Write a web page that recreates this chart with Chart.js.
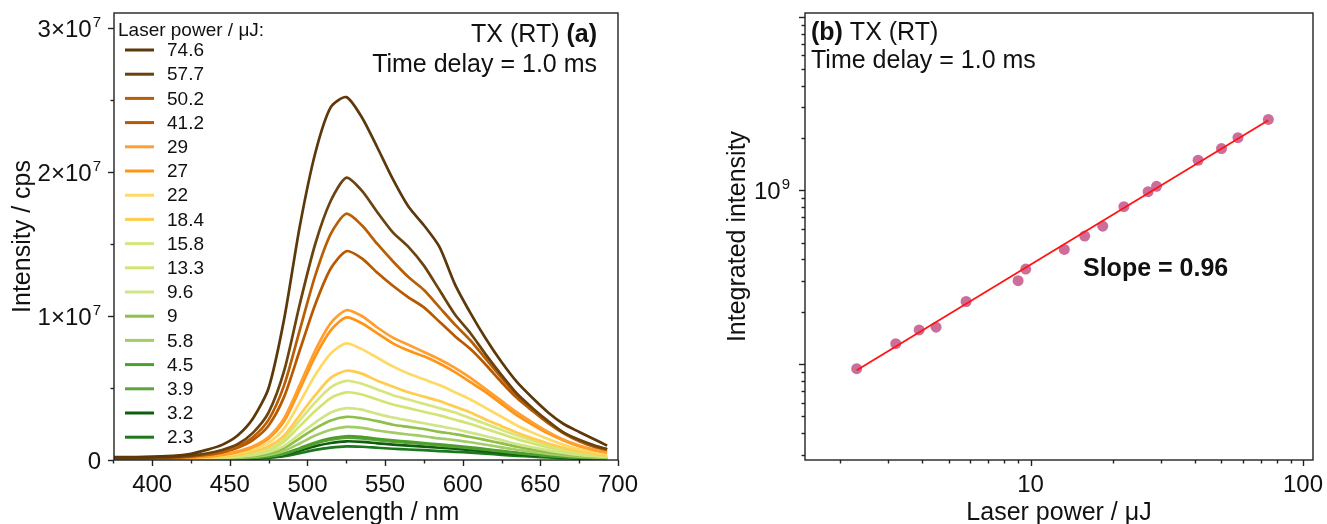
<!DOCTYPE html>
<html><head><meta charset="utf-8">
<script src="https://cdn.jsdelivr.net/npm/chart.js@4.4.0/dist/chart.umd.min.js"></script>
<style>
html,body{margin:0;padding:0;background:#fff;width:1327px;height:524px;overflow:hidden}
#c1{position:absolute;left:0;top:0}
#c2{position:absolute;left:680px;top:0}
</style></head><body>
<canvas id="c1" width="660" height="524"></canvas>
<canvas id="c2" width="647" height="524"></canvas>
<script>
// ---------- Panel (a): emission spectra (intensity in units of 10^6 cps) ----------
const wavelengths = [375,385,395,405,415,425,435,445,455,465,475,485,495,505,515,525,535,545,555,565,575,585,595,605,615,625,635,645,655,665,675,685,693];
const I_74_6 = [0.2,0.2,0.22,0.25,0.3,0.43,0.7,1.05,1.7,2.9,5.0,9.8,16.2,21.3,24.5,25.2,23.8,21.7,19.5,17.6,16.3,14.8,12.2,10.2,8.4,6.8,5.4,4.3,3.3,2.5,1.95,1.42,1.0];
const I_57_7 = [0.15,0.15,0.16,0.18,0.22,0.3,0.45,0.7,1.1,1.9,3.3,6.2,10.8,15.0,18.0,19.6,18.7,17.2,15.8,14.8,13.5,11.8,10.1,8.8,7.3,5.9,4.6,3.6,2.7,1.9,1.4,1.0,0.75];
const I_50_2 = [0.13,0.13,0.14,0.16,0.2,0.27,0.4,0.6,0.95,1.6,2.8,5.2,9.0,12.8,15.7,17.1,16.3,15.0,13.8,12.7,11.8,10.6,9.4,8.3,7.0,5.7,4.5,3.5,2.6,1.9,1.35,0.95,0.75];
const I_41_2 = [0.12,0.12,0.13,0.15,0.18,0.24,0.35,0.53,0.85,1.4,2.4,4.4,7.6,10.8,13.3,14.5,14.0,13.0,12.1,11.3,10.6,9.6,8.6,7.7,6.6,5.4,4.3,3.4,2.55,1.85,1.3,0.9,0.7];
const I_29 = [0.1,0.1,0.11,0.12,0.14,0.18,0.26,0.39,0.6,0.95,1.6,2.9,5.2,7.6,9.5,10.4,10.0,9.2,8.5,8.0,7.5,7.0,6.4,5.7,4.9,4.1,3.3,2.6,1.95,1.4,1.0,0.7,0.55];
const I_27 = [0.1,0.1,0.1,0.11,0.13,0.17,0.24,0.36,0.56,0.9,1.5,2.7,4.9,7.2,9.0,9.9,9.5,8.8,8.1,7.6,7.2,6.7,6.1,5.4,4.7,3.9,3.1,2.45,1.85,1.35,0.95,0.68,0.52];
const I_22 = [0.08,0.08,0.09,0.1,0.11,0.14,0.2,0.3,0.46,0.73,1.2,2.2,4.0,5.9,7.4,8.1,7.7,7.1,6.5,6.0,5.6,5.2,4.7,4.2,3.6,3.0,2.4,1.9,1.45,1.05,0.75,0.53,0.4];
const I_18_4 = [0.07,0.07,0.08,0.08,0.09,0.11,0.16,0.24,0.36,0.57,0.95,1.7,3.1,4.5,5.7,6.2,6.0,5.5,5.1,4.7,4.4,4.1,3.7,3.3,2.8,2.35,1.9,1.5,1.15,0.85,0.6,0.43,0.33];
const I_15_8 = [0.06,0.06,0.07,0.07,0.08,0.1,0.14,0.21,0.32,0.5,0.84,1.5,2.75,4.0,5.05,5.5,5.3,4.9,4.5,4.2,3.9,3.6,3.3,2.9,2.5,2.1,1.7,1.35,1.03,0.76,0.55,0.4,0.3];
const I_13_3 = [0.05,0.05,0.06,0.06,0.07,0.085,0.12,0.18,0.27,0.43,0.71,1.28,2.35,3.4,4.3,4.7,4.55,4.2,3.85,3.6,3.35,3.1,2.8,2.5,2.15,1.8,1.45,1.15,0.88,0.65,0.47,0.34,0.26];
const I_9_6 = [0.04,0.04,0.045,0.05,0.055,0.07,0.095,0.14,0.21,0.33,0.55,0.98,1.8,2.6,3.3,3.6,3.5,3.2,2.95,2.75,2.55,2.35,2.15,1.9,1.65,1.38,1.1,0.88,0.67,0.5,0.36,0.26,0.2];
const I_9 = [0.035,0.035,0.04,0.04,0.045,0.06,0.08,0.12,0.18,0.28,0.46,0.82,1.5,2.2,2.75,3.0,2.9,2.7,2.45,2.3,2.15,1.95,1.8,1.6,1.38,1.15,0.92,0.73,0.56,0.42,0.3,0.22,0.17];
const I_5_8 = [0.03,0.03,0.03,0.035,0.04,0.05,0.065,0.095,0.14,0.22,0.36,0.63,1.15,1.7,2.1,2.3,2.23,2.05,1.9,1.77,1.65,1.5,1.38,1.23,1.06,0.88,0.71,0.56,0.43,0.32,0.23,0.17,0.13];
const I_4_5 = [0.025,0.025,0.025,0.03,0.03,0.04,0.05,0.07,0.1,0.16,0.26,0.45,0.82,1.22,1.5,1.65,1.6,1.47,1.36,1.27,1.18,1.08,0.99,0.88,0.76,0.63,0.51,0.4,0.31,0.23,0.17,0.12,0.1];
const I_3_9 = [0.02,0.02,0.025,0.025,0.03,0.035,0.05,0.065,0.095,0.15,0.24,0.42,0.77,1.14,1.41,1.55,1.5,1.38,1.28,1.19,1.11,1.01,0.93,0.83,0.71,0.59,0.48,0.38,0.29,0.22,0.16,0.11,0.09];
const I_3_2 = [0.02,0.02,0.02,0.02,0.025,0.03,0.04,0.055,0.08,0.125,0.2,0.35,0.65,0.96,1.18,1.3,1.26,1.16,1.07,1.0,0.93,0.85,0.78,0.69,0.6,0.5,0.4,0.32,0.24,0.18,0.13,0.095,0.075];
const I_2_3 = [0.015,0.015,0.015,0.015,0.02,0.025,0.03,0.04,0.06,0.09,0.15,0.26,0.47,0.7,0.86,0.95,0.92,0.85,0.78,0.73,0.68,0.62,0.57,0.51,0.44,0.36,0.29,0.23,0.18,0.13,0.095,0.07,0.055];

const spectraLabels = ['74.6','57.7','50.2','41.2','29','27','22','18.4','15.8','13.3','9.6','9','5.8','4.5','3.9','3.2','2.3'];
const spectraValues = [I_74_6,I_57_7,I_50_2,I_41_2,I_29,I_27,I_22,I_18_4,I_15_8,I_13_3,I_9_6,I_9,I_5_8,I_4_5,I_3_9,I_3_2,I_2_3];
const spectraColors = ['#5C380A','#6B430E','#B85E04','#B85900','#FF9F2F','#FF9417','#FFD966','#FFCC4D','#D6E67D','#D4E473','#CFE586','#8EBF48','#A2CC66','#4E9E2E','#5BA53A','#0E5E0E','#1C781C'];

const specXMajor = [400,450,500,550,600,650,700];
const specXMinor = [375,425,475,525,575,625,675];
const specYMajor = [0,10,20,30];
const specYMinor = [5,15,25];
const specYBase = ['0','1\u00D710','2\u00D710','3\u00D710'];
const specYExp = ['','7','7','7'];

// ---------- Panel (b): integrated intensity vs laser power ----------
const laserPower = [2.3,3.2,3.9,4.5,5.8,9,9.6,13.3,15.8,18.4,22,27,29,41.2,50.2,57.7,74.6];
const integratedIntensity = [9.4e7,1.31e8,1.57e8,1.63e8,2.29e8,3.02e8,3.52e8,4.57e8,5.45e8,6.22e8,8.05e8,9.83e8,1.055e9,1.49e9,1.74e9,2.01e9,2.56e9];
const fitPower = [2.3,74.6];
const fitIntensity = [9.2e7,2.53e9];

const pwXMajor = [10,100];
const pwXMinor = [2,3,4,5,6,7,8,9,20,30,40,50,60,70,80,90];
const pwYMajor = [1e8,1e9,1e10];
const pwYMinor = [3e7,4e7,5e7,6e7,7e7,8e7,9e7,2e8,3e8,4e8,5e8,6e8,7e8,8e8,9e8,2e9,3e9,4e9,5e9,6e9,7e9,8e9,9e9];
const pwYLabelVals = [1e9];
const pwYBase = ['10'];
const pwYExp = ['9'];

// ---------- shared ----------
const FONT = '"Liberation Sans", Arial, Helvetica, sans-serif';
Chart.defaults.font.family = FONT;
Chart.defaults.color = '#111';

const frameTicks = {
  id: 'frameTicks',
  afterDraw(chart, args, o) {
    const {ctx, chartArea: a, scales} = chart;
    ctx.save();
    ctx.strokeStyle = '#222';
    ctx.lineWidth = 1.4;
    ctx.strokeRect(a.left, a.top, a.right - a.left, a.bottom - a.top);
    const draw = (scale, vals, len) => {
      vals.forEach(v => {
        const p = Math.round(scale.getPixelForValue(v)) + 0.5;
        ctx.beginPath();
        if (scale.isHorizontal()) { ctx.moveTo(p, a.bottom); ctx.lineTo(p, a.bottom + len); }
        else { ctx.moveTo(a.left, p); ctx.lineTo(a.left - len, p); }
        ctx.stroke();
      });
    };
    draw(scales.x, o.xMajor, 6); draw(scales.x, o.xMinor, 3.5);
    draw(scales.y, o.yMajor, 6); draw(scales.y, o.yMinor, 3.5);
    ctx.fillStyle = '#111';
    ctx.textBaseline = 'alphabetic';
    o.yLabelVals.forEach((v, i) => {
      const py = scales.y.getPixelForValue(v);
      const base = o.yBase[i], exp = o.yExp[i];
      ctx.font = '24px ' + FONT;
      const bw = ctx.measureText(base).width;
      ctx.font = '15px ' + FONT;
      const ew = exp ? ctx.measureText(exp).width + 1 : 0;
      const right = a.left - o.yGap;
      const bx = right - ew - bw;
      const baseY = py + 8.6;
      ctx.textAlign = 'left';
      ctx.font = '24px ' + FONT;
      ctx.fillText(base, bx, baseY);
      if (exp) { ctx.font = '15px ' + FONT; ctx.fillText(exp, bx + bw + 1, baseY - 9.5); }
    });
    ctx.restore();
  }
};

function drawMixed(ctx, parts, x, y, align) {
  let widths = parts.map(([t, b]) => { ctx.font = (b ? 'bold ' : '') + '25px ' + FONT; return ctx.measureText(t).width; });
  let total = widths.reduce((s, w) => s + w, 0);
  let cx = align === 'right' ? x - total : x;
  ctx.textAlign = 'left';
  ctx.textBaseline = 'middle';
  parts.forEach(([t, b], i) => { ctx.font = (b ? 'bold ' : '') + '25px ' + FONT; ctx.fillText(t, cx, y); cx += widths[i]; });
}

const panelA = {
  id: 'panelA',
  afterDraw(chart) {
    const {ctx, chartArea: a} = chart;
    ctx.save();
    ctx.fillStyle = '#111';
    ctx.font = '19px ' + FONT;
    ctx.textAlign = 'left';
    ctx.textBaseline = 'middle';
    ctx.fillText('Laser power / \u03BCJ:', a.left + 4, 31);
    chart.data.datasets.forEach((ds, i) => {
      const y = 50 + i * 24.2;
      ctx.strokeStyle = ds.borderColor;
      ctx.lineWidth = 3;
      ctx.beginPath(); ctx.moveTo(a.left + 11, y); ctx.lineTo(a.left + 40, y); ctx.stroke();
      ctx.fillStyle = '#111';
      ctx.fillText(ds.label, a.left + 53, y + 1);
    });
    drawMixed(ctx, [['TX (RT) ', false], ['(a)', true]], a.right - 21, 35, 'right');
    drawMixed(ctx, [['Time delay = 1.0 ms', false]], a.right - 21, 65, 'right');
    ctx.restore();
  }
};

const panelB = {
  id: 'panelB',
  afterDraw(chart) {
    const {ctx, chartArea: a} = chart;
    ctx.save();
    ctx.fillStyle = '#111';
    drawMixed(ctx, [['(b)', true], [' TX (RT)', false]], a.left + 6, 33, 'left');
    drawMixed(ctx, [['Time delay = 1.0 ms', false]], a.left + 6, 61, 'left');
    drawMixed(ctx, [['Slope = 0.96', true]], a.left + 278, 269, 'left');
    ctx.restore();
  }
};

const near = (v, t) => Math.abs(v - t) < 1e-6 * Math.max(1, Math.abs(t));
const fixTicks = list => s => { s.ticks = list.slice().sort((p, q) => p - q).map(v => ({value: v})); };
const noPadV = s => { s.paddingTop = 0; s.paddingBottom = 0; };
const noPadH = s => { s.paddingLeft = 0; s.paddingRight = 0; };

// ---------- chart (a) ----------
new Chart(document.getElementById('c1'), {
  type: 'line',
  data: {
    datasets: spectraValues.map((vals, i) => ({
      label: spectraLabels[i],
      data: wavelengths.map((w, j) => ({x: w, y: vals[j]})),
      borderColor: spectraColors[i],
      backgroundColor: spectraColors[i],
      borderWidth: 2.7,
      pointRadius: 0,
      tension: 0.25
    }))
  },
  options: {
    responsive: false, animation: false, devicePixelRatio: 1,
    layout: {padding: {top: 13, right: 42, bottom: 0, left: 0}},
    plugins: {legend: {display: false}, tooltip: {enabled: false},
      frameTicks: {xMajor: specXMajor, xMinor: specXMinor, yMajor: specYMajor, yMinor: specYMinor,
        yLabelVals: specYMajor, yBase: specYBase, yExp: specYExp, yGap: 13}},
    scales: {
      x: {
        type: 'linear', min: 375.4, max: 700,
        grid: {display: false, drawTicks: false}, border: {display: false},
        afterBuildTicks: fixTicks(specXMajor),
        ticks: {autoSkip: false, maxRotation: 0, padding: 11, font: {size: 24}, color: '#111',
          callback: v => String(Math.round(v))},
        title: {display: true, text: 'Wavelength / nm', font: {size: 25, lineHeight: 0.84}, color: '#111', padding: {top: 0, bottom: 0}},
        afterFit: s => { s.height = 64; noPadH(s); }
      },
      y: {
        type: 'linear', min: 0, max: 31.04,
        grid: {display: false, drawTicks: false}, border: {display: false},
        afterBuildTicks: fixTicks(specYMajor),
        ticks: {display: false},
        title: {display: true, text: 'Intensity / cps', font: {size: 25, lineHeight: 1.2}, color: '#111', padding: {top: 8, bottom: 0}},
        afterFit: s => { s.width = 114; noPadV(s); }
      }
    }
  },
  plugins: [frameTicks, panelA]
});

// ---------- chart (b) ----------
new Chart(document.getElementById('c2'), {
  type: 'scatter',
  data: {
    datasets: [
      {
        label: 'data',
        data: laserPower.map((p, i) => ({x: p, y: integratedIntensity[i]})),
        backgroundColor: 'rgba(198,90,140,0.88)',
        borderColor: 'rgba(198,90,140,0.88)',
        pointRadius: 5.5, pointBorderWidth: 0, showLine: false, order: 2
      },
      {
        label: 'fit',
        data: fitPower.map((p, i) => ({x: p, y: fitIntensity[i]})),
        borderColor: '#FF1414', backgroundColor: '#FF1414',
        borderWidth: 1.8, pointRadius: 0, showLine: true, order: 1
      }
    ]
  },
  options: {
    responsive: false, animation: false, devicePixelRatio: 1,
    layout: {padding: {top: 13, right: 14, bottom: 0, left: 0}},
    plugins: {legend: {display: false}, tooltip: {enabled: false},
      frameTicks: {xMajor: pwXMajor, xMinor: pwXMinor, yMajor: pwYMajor, yMinor: pwYMinor,
        yLabelVals: pwYLabelVals, yBase: pwYBase, yExp: pwYExp, yGap: 15}},
    scales: {
      x: {
        type: 'logarithmic', min: 1.486, max: 108.8,
        grid: {display: false, drawTicks: false}, border: {display: false},
        afterBuildTicks: fixTicks(pwXMajor),
        ticks: {autoSkip: false, maxRotation: 0, padding: 11, font: {size: 24}, color: '#111',
          callback: v => String(Math.round(v))},
        title: {display: true, text: 'Laser power / \u03BCJ', font: {size: 25, lineHeight: 0.84}, color: '#111', padding: {top: 0, bottom: 0}},
        afterFit: s => { s.height = 64; noPadH(s); }
      },
      y: {
        type: 'logarithmic', min: 2.8e7, max: 1.05e10,
        grid: {display: false, drawTicks: false}, border: {display: false},
        afterBuildTicks: fixTicks(pwYMajor),
        ticks: {display: false},
        title: {display: true, text: 'Integrated intensity', font: {size: 25, lineHeight: 1.2}, color: '#111', padding: {top: 43, bottom: 0}},
        afterFit: s => { s.width = 125; noPadV(s); }
      }
    }
  },
  plugins: [frameTicks, panelB]
});
</script>
</body></html>
